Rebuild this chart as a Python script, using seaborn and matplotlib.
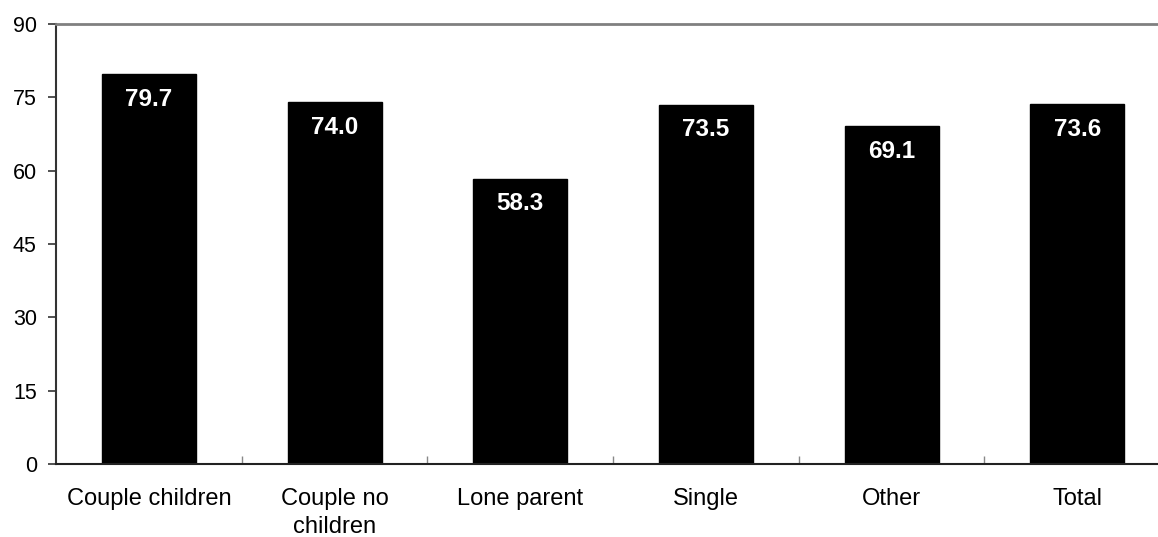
import matplotlib
matplotlib.use("Agg")
import matplotlib.pyplot as plt
import seaborn as sns
import pandas as pd

categories = ["Couple children", "Couple no\nchildren", "Lone parent", "Single", "Other", "Total"]
values = [79.7, 74.0, 58.3, 73.5, 69.1, 73.6]
y_ticks = [0, 15, 30, 45, 60, 75, 90]

sns.set_theme(style="white")
plt.rcParams["font.family"] = ["Liberation Sans", "DejaVu Sans"]

df = pd.DataFrame({"category": categories, "value": values})

fig = plt.figure(figsize=(11.58, 5.37), dpi=100)
# axes run slightly past the right edge of the canvas
ax = fig.add_axes([56.2 / 1158, 1 - 464 / 537, (1170 - 56.2) / 1158, 440 / 537])

sns.barplot(data=df, x="category", y="value", color="black", width=0.506,
            saturation=1, ax=ax, edgecolor="black")

ax.set_xlim(-0.5, len(categories) - 0.5)
ax.set_ylim(0, 90)
ax.set_yticks(y_ticks)
ax.set_xlabel("")
ax.set_ylabel("")

for i, v in enumerate(values):
    ax.text(i, v - 5.1, f"{v:.1f}", ha="center", va="center", color="white",
            fontsize=17.5, fontweight="bold")

# category tick marks sit between the bars, pointing up into the plot
ax.set_xticks([i + 0.5 for i in range(len(categories) - 1)], minor=True)
ax.tick_params(axis="x", which="minor", direction="in", length=6, width=1, color="#888888", bottom=True)
ax.tick_params(axis="x", which="major", length=0, labelsize=17, pad=17, colors="black")
for lbl in ax.get_xticklabels():
    lbl.set_linespacing(1.4)
ax.tick_params(axis="y", which="major", direction="out", length=6, width=1.2, color="#333333",
               labelsize=15.5, pad=8, left=True, colors="black")

ax.spines["left"].set_color("#333333")
ax.spines["left"].set_linewidth(1.5)
ax.spines["bottom"].set_color("#222222")
ax.spines["bottom"].set_linewidth(1.5)
ax.spines["top"].set_color("#808080")
ax.spines["top"].set_linewidth(2)
ax.spines["right"].set_visible(False)

fig.savefig("out.png", dpi=100)
